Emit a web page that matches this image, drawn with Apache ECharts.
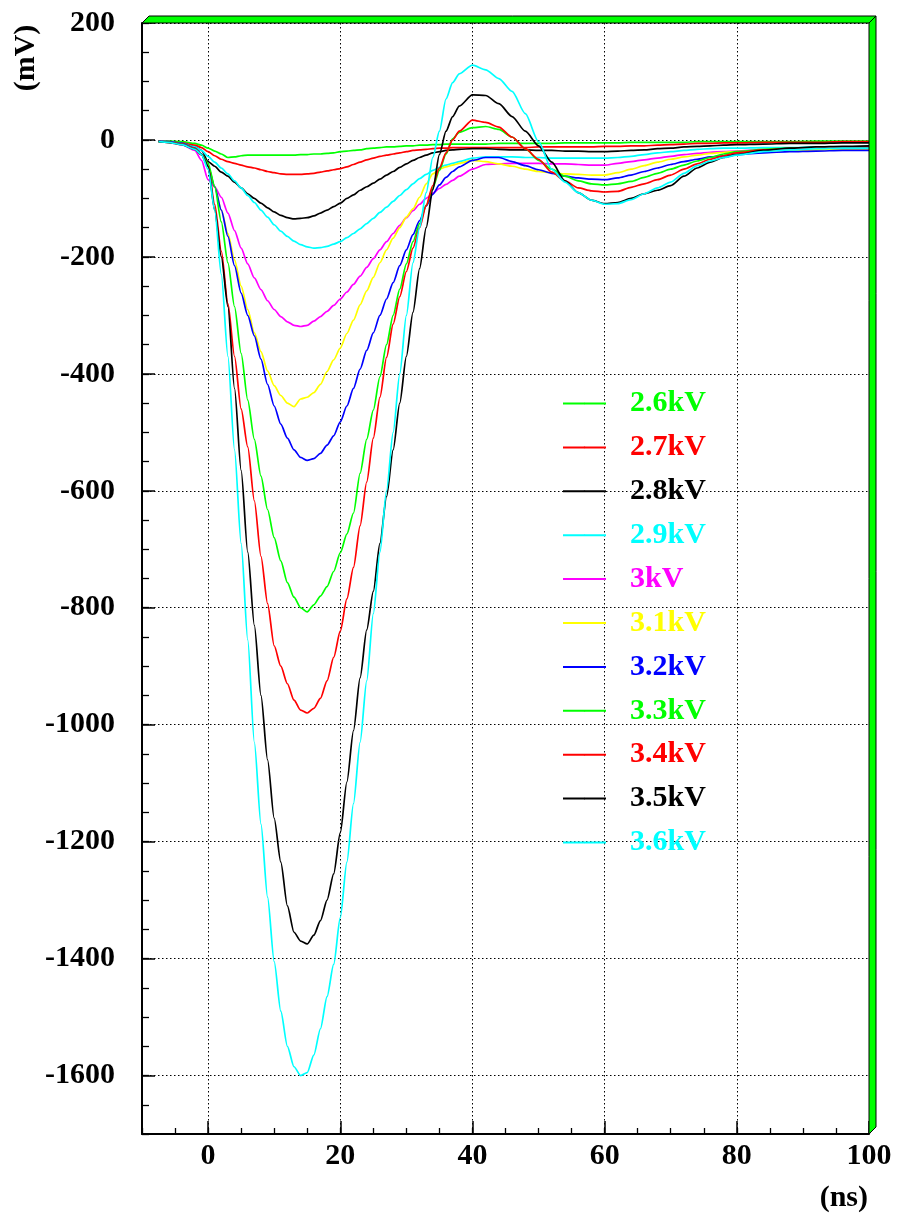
<!DOCTYPE html>
<html><head><meta charset="utf-8">
<script src="https://cdn.jsdelivr.net/npm/echarts@6/dist/echarts.min.js"></script>
<style>html,body{margin:0;padding:0;background:#fff}#c{width:897px;height:1216px}</style>
</head><body><div id="c"></div>
<script>
// time samples (ns)
const time = [-7.5,-6,-4,-2,-1,
  0,1,2,3,4,5,6,7,8,9,
  10,11,12,13,14,15,16,17,18,19,
  20,21,22,23,24,25,26,27,28,29,
  30,31,32,33,34,35,36,37,38,
  40,42,44,46,48,50,52,54,56,58,60,62,64,66,68,70,72,74,76,78,80,
  84,88,92,96,100];

// signal amplitude (mV) for each high voltage
const v26 = [-2,-2,-3,-6,-9,
  -14,-19,-24,-30,-29,-27,-26,-26,-26,-26,
  -26,-26,-26,-26,-25,-25,-24,-24,-23,-22,
  -20,-19,-18,-17,-15,-14,-13,-12,-12,-11,
  -10,-10,-9,-9,-8,-8,-7,-7,-7,
  -7,-7,-6,-6,-6,-6,-6,-5,-5,-5,-5,-5,-4,-4,-4,-4,-4,-3,-3,-3,-3,
  -3,-3,-2,-2,-2];
const v27 = [-2,-3,-5,-9,-13,
  -20,-27,-33,-37,-40,-43,-46,-48,-51,-54,
  -56,-58,-59,-59,-59,-58,-57,-55,-53,-51,
  -49,-46,-42,-38,-34,-31,-28,-26,-24,-22,
  -20,-18,-17,-16,-15,-14,-14,-13,-13,
  -13,-13,-13,-13,-13,-12,-12,-12,-12,-12,-11,-11,-10,-10,-9,-8,-7,-6,-6,-5,-5,
  -4,-4,-4,-3,-3];
const v28 = [-2,-3,-6,-12,-18,
  -37,-45,-55,-62,-72,-82,-92,-100,-108,-116,
  -123,-129,-133,-135,-134,-133,-130,-125,-120,-114,
  -108,-100,-94,-86,-80,-74,-67,-60,-54,-47,
  -41,-35,-30,-26,-22,-20,-18,-17,-16,
  -15,-15,-16,-17,-17,-18,-18,-19,-19,-20,-20,-19,-18,-17,-15,-14,-12,-11,-10,-9,-8,
  -7,-6,-6,-5,-5];
const v29 = [-2,-3,-6,-12,-18,
  -28,-38,-48,-58,-70,-82,-95,-107,-120,-132,
  -145,-156,-165,-173,-179,-183,-185,-184,-182,-178,
  -174,-167,-160,-152,-143,-134,-124,-115,-105,-95,
  -85,-75,-66,-59,-52,-47,-43,-40,-37,
  -31,-29,-29,-29,-30,-30,-31,-31,-31,-31,-31,-30,-28,-25,-22,-20,-18,-16,-15,-14,-14,
  -13,-13,-12,-12,-12];
const v30 = [-2,-4,-8,-18,-35,
  -68,-80,-98,-125,-155,-185,-212,-236,-256,-275,
  -290,-302,-311,-317,-319,-317,-310,-302,-293,-283,
  -272,-260,-247,-233,-218,-203,-188,-174,-160,-146,
  -133,-121,-110,-100,-91,-83,-76,-69,-62,
  -50,-42,-41,-40,-40,-40,-41,-41,-42,-43,-43,-40,-37,-34,-31,-28,-25,-23,-21,-20,-19,
  -17,-15,-14,-13,-12];
const v31 = [-2,-3,-7,-15,-25,
  -45,-80,-120,-160,-205,-250,-290,-330,-362,-395,
  -420,-437,-450,-456,-443,-440,-432,-418,-396,-376,
  -356,-331,-308,-282,-258,-235,-210,-188,-168,-150,
  -132,-118,-98,-75,-58,-50,-46,-43,-40,
  -35,-37,-41,-45,-50,-54,-56,-58,-59,-60,-60,-56,-50,-44,-38,-33,-29,-26,-23,-21,-20,
  -19,-18,-17,-17,-16];
const v32 = [-2,-3,-6,-14,-24,
  -45,-80,-120,-165,-215,-262,-300,-335,-375,-418,
  -455,-486,-510,-530,-543,-548,-545,-536,-522,-506,
  -482,-455,-425,-392,-360,-330,-300,-272,-244,-215,
  -188,-162,-138,-113,-93,-77,-64,-54,-46,
  -35,-30,-30,-37,-44,-51,-57,-62,-65,-67,-68,-65,-60,-54,-48,-42,-37,-33,-29,-27,-25,
  -22,-20,-19,-18,-18];
const v33 = [-3,-4,-7,-15,-25,
  -40,-80,-140,-210,-285,-365,-445,-512,-575,-632,
  -680,-720,-757,-782,-800,-807,-795,-780,-764,-738,
  -706,-674,-638,-570,-512,-462,-405,-350,-300,-255,
  -212,-174,-143,-112,-82,-52,-24,2,13,
  21,23,18,5,-15,-35,-50,-62,-70,-75,-77,-75,-71,-64,-57,-50,-43,-36,-30,-24,-20,
  -16,-14,-13,-12,-12];
const v34 = [-3,-4,-7,-15,-25,
  -45,-110,-190,-280,-370,-460,-525,-617,-712,-793,
  -865,-900,-930,-958,-975,-980,-972,-955,-925,-885,
  -840,-785,-731,-660,-585,-510,-440,-372,-315,-268,
  -225,-185,-150,-112,-78,-48,-22,0,15,
  34,30,22,5,-15,-33,-55,-70,-82,-87,-89,-88,-81,-75,-68,-60,-50,-41,-33,-27,-22,
  -17,-15,-13,-12,-12];
const v35 = [-3,-4,-8,-16,-25,
  -45,-120,-200,-285,-425,-565,-705,-830,-950,-1060,
  -1160,-1235,-1310,-1355,-1370,-1375,-1360,-1335,-1300,-1255,
  -1185,-1098,-1010,-920,-838,-772,-690,-610,-530,-450,
  -370,-295,-220,-150,-85,-25,15,40,58,
  77,76,62,40,15,-10,-38,-70,-90,-103,-109,-107,-100,-92,-86,-78,-62,-48,-38,-30,-25,
  -18,-14,-12,-11,-10];
const v36 = [-3,-4,-8,-16,-25,
  -50,-120,-230,-370,-530,-690,-855,-1030,-1170,-1295,
  -1405,-1490,-1550,-1585,-1600,-1595,-1565,-1520,-1465,-1410,
  -1330,-1235,-1135,-1030,-925,-810,-705,-600,-500,-400,
  -300,-210,-150,-90,-30,15,70,98,113,
  128,120,105,83,45,-3,-50,-72,-90,-103,-110,-109,-102,-92,-82,-72,-57,-44,-36,-30,-26,
  -20,-17,-15,-14,-14];

const seriesNames = ['2.6kV','2.7kV','2.8kV','2.9kV','3kV','3.1kV','3.2kV','3.3kV','3.4kV','3.5kV','3.6kV'];
const seriesColors = ['#00ff00','#ff0000','#000000','#00ffff','#ff00ff','#ffff00','#0000ff','#00ff00','#ff0000','#000000','#00ffff'];
const yTickValues = [200,0,-200,-400,-600,-800,-1000,-1200,-1400,-1600];
const xTickValues = [0,20,40,60,80,100];

const values = [v26,v27,v28,v29,v30,v31,v32,v33,v34,v35,v36];

const GL = 142, GT = 23, GR = 869, GB = 1134, W = 897, H = 1216;
const FONT = '"Liberation Serif","Times New Roman",serif';

const chart = echarts.init(document.getElementById('c'), null, {renderer: 'canvas'});

const series = values.map((vals, i) => ({
  name: seriesNames[i],
  type: 'line',
  xAxisIndex: 0,
  yAxisIndex: 0,
  data: time.map((t, k) => [t, vals[k]]),
  symbol: 'none',
  showSymbol: false,
  smooth: 0.25,
  smoothMonotone: 'x',
  lineStyle: {color: seriesColors[i], width: 1.7},
  itemStyle: {color: seriesColors[i]},
  emphasis: {disabled: true},
  silent: true
}));

const plain = v => String(v);
const labelStyle = {fontSize: 30, fontWeight: 'bold', fontFamily: FONT, color: '#000', formatter: plain};
const dotted = {type: [1.5, 2.5], color: '#000', width: 1};

chart.setOption({
  animation: false,
  backgroundColor: '#ffffff',
  grid: {left: GL, top: GT, right: W - GR, bottom: H - GB, containLabel: false, outerBoundsMode: 'none'},
  xAxis: [
    {type: 'value', min: -10, max: 100, position: 'bottom',
     axisLine: {show: true, onZero: false, lineStyle: {color: '#000', width: 2}},
     axisTick: {show: true, inside: true, length: 13, customValues: xTickValues, lineStyle: {color: '#000', width: 1.5}},
     axisLabel: Object.assign({show: true, margin: 7, customValues: xTickValues}, labelStyle),
     splitLine: {show: true, lineStyle: dotted}},
    {type: 'value', min: -10, max: 100, interval: 5, position: 'bottom',
     axisLine: {show: false, onZero: false},
     axisTick: {show: true, inside: true, length: 6, lineStyle: {color: '#000', width: 1.3}},
     axisLabel: {show: false}, splitLine: {show: false}}
  ],
  yAxis: [
    {type: 'value', min: -1700, max: 200, position: 'left',
     axisLine: {show: true, onZero: false, lineStyle: {color: '#000', width: 2}},
     axisTick: {show: true, inside: true, length: 13, customValues: yTickValues, lineStyle: {color: '#000', width: 1.5}},
     axisLabel: Object.assign({show: true, margin: 27, customValues: yTickValues}, labelStyle),
     splitLine: {show: true, lineStyle: dotted}},
    {type: 'value', min: -1700, max: 200, interval: 50, position: 'left',
     axisLine: {show: false, onZero: false},
     axisTick: {show: true, inside: true, length: 7, lineStyle: {color: '#000', width: 1.3}},
     axisLabel: {show: false}, splitLine: {show: false}}
  ],
  legend: {
    orient: 'vertical', left: 562, top: 388.5, padding: 0,
    itemWidth: 43, itemHeight: 2, itemGap: 13.9,
    selectedMode: false,
    textStyle: {fontSize: 30, fontWeight: 'bold', fontFamily: FONT, lineHeight: 30, padding: [0, 0, 0, 19]},
    data: seriesNames.map((n, i) => ({name: n, textStyle: {color: seriesColors[i]}}))
  },
  graphic: [
    {type: 'polygon', z: 100, silent: true,
     shape: {points: [[GL, GT], [GL + 7, GT - 7], [GR + 7, GT - 7], [GR, GT]]},
     style: {fill: '#00ff00', stroke: '#000', lineWidth: 1}},
    {type: 'polygon', z: 100, silent: true,
     shape: {points: [[GR, GT], [GR + 7, GT - 7], [GR + 7, GB - 7], [GR, GB]]},
     style: {fill: '#00ff00', stroke: '#000', lineWidth: 1}},
    {type: 'text', z: 100, x: 26, y: 58, rotation: Math.PI / 2, silent: true,
     style: {text: '(mV)', font: 'bold 30px ' + FONT, fill: '#000', align: 'center', verticalAlign: 'middle'}},
    {type: 'text', z: 100, x: GR - 1, y: 1198, silent: true,
     style: {text: '(ns)', font: 'bold 30px ' + FONT, fill: '#000', align: 'right', verticalAlign: 'middle'}}
  ],
  series: series
});
</script>
</body></html>
